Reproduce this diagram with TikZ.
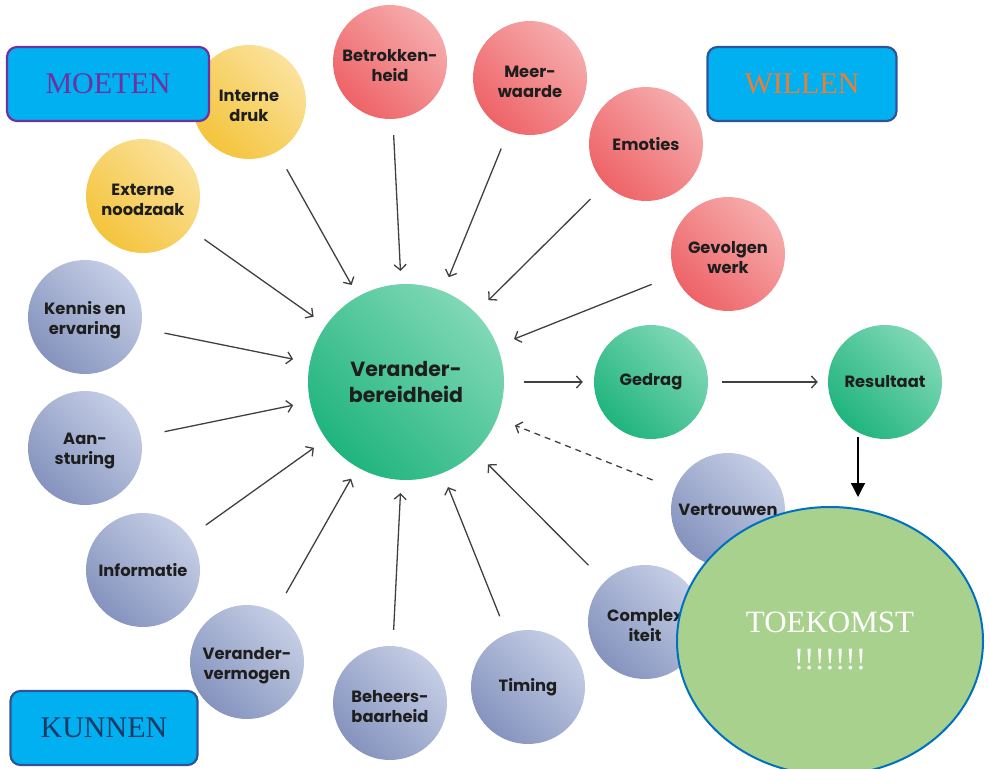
\documentclass[tikz,border=0pt]{standalone}
\usepackage{fontspec}
\setmainfont{Liberation Serif}
\newfontfamily\popfont{Poppins}
\usetikzlibrary{arrows.meta,calc,shapes.geometric}
\definecolor{yelD}{HTML}{F4C43C}
\definecolor{yelL}{HTML}{FBE29C}
\definecolor{redD}{HTML}{EE6367}
\definecolor{redL}{HTML}{F6ACAD}
\definecolor{bluD}{HTML}{8593BE}
\definecolor{bluL}{HTML}{C5CEE5}
\definecolor{grnD}{HTML}{20B47E}
\definecolor{grnL}{HTML}{80D8B7}
\definecolor{txt}{HTML}{1E1E1E}
\definecolor{lineg}{HTML}{404040}
\definecolor{boxfill}{HTML}{00B0F0}
\definecolor{purp}{HTML}{7030A0}
\definecolor{dblue}{HTML}{2F5597}
\definecolor{orng}{HTML}{ED7D31}
\definecolor{navy}{HTML}{1F3864}
\definecolor{tkfill}{HTML}{A9D18E}
\definecolor{tkline}{HTML}{0070C0}
\tikzset{
  bubtext/.style={align=center, text=txt, inner sep=0pt,
    font=\popfont\bfseries\fontsize{16.3}{20}\selectfont},
  bub/.style={circle, minimum size=#1, inner sep=0pt, bubtext},
  bub/.default=114pt,
  two/.style={label={[bubtext, yshift=-3.5pt]center:#1}},
  yel/.style={bub, top color=yelL, bottom color=yelD, shading angle=-45},
  redb/.style={bub, top color=redL, bottom color=redD, shading angle=-45},
  blu/.style={bub, top color=bluL, bottom color=bluD, shading angle=-45},
  grn/.style={bub=#1, top color=grnL, bottom color=grnD, shading angle=-45},
  grn/.default=114pt,
  arr/.style={draw=lineg, line width=1.3pt, -{Straight Barb[length=5.5pt,width=12pt]}},
  lbox/.style={rounded corners=10pt, line width=2.2pt, fill=boxfill,
    minimum width=#1, minimum height=74pt, inner sep=0pt,
    font=\fontsize{30}{34}\selectfont},
}
\begin{document}
\begin{tikzpicture}[x=1pt,y=-1pt]
\useasboundingbox (0,0) rectangle (990,768);
% yellow
\node[yel, two={Interne\\druk}] (intern) at (249,102) {};
\node[yel, two={Externe\\noodzaak}] (extern) at (143,196) {};
% red
\node[redb, two={Betrokken-\\heid}] (betrok) at (390,62) {};
\node[redb, two={Meer-\\waarde}] (meer) at (530,78) {};
\node[redb] (emot) at (646,144) {Emoties};
\node[redb, two={Gevolgen\\werk}] (gevolg) at (728,254) {};
% blue
\node[blu, two={Kennis en\\ervaring}] (kennis) at (85,317) {};
\node[blu, two={Aan-\\sturing}] (aanst) at (85,448) {};
\node[blu] (info) at (143,570) {Informatie};
\node[blu, two={Verander-\\vermogen}] (vverm) at (247,662) {};
\node[blu, two={Beheers-\\baarheid}] (beheer) at (390,703) {};
\node[blu] (timing) at (528,687) {Timing};
\node[blu, two={Complex\\iteit}] (complex) at (645,622) {};
\node[blu] (vertr) at (728,510) {Vertrouwen};
% green
\node[grn=196pt, font=\popfont\bfseries\fontsize{20.5}{25.5}\selectfont] (center) at (406,382) {Verander-\\bereidheid};
\node[grn] (gedrag) at (651,382) {Gedrag};
\node[grn] (result) at (885,382) {Resultaat};
% arrows in
\draw[arr, shorten <=20pt, shorten >=13pt] (intern) -- (center);
\draw[arr, shorten <=18pt, shorten >=15pt] (extern) -- (center);
\draw[arr, shorten <=16pt, shorten >=13pt] (betrok) -- (center);
\draw[arr, shorten <=19pt, shorten >=15pt] (meer) -- (center);
\draw[arr, shorten <=21pt, shorten >=18pt] (emot) -- (center);
\draw[arr, shorten <=25pt, shorten >=18pt] (gevolg) -- (center);
\draw[arr, shorten <=24pt, shorten >=17pt] (kennis) -- (center);
\draw[arr, shorten <=24pt, shorten >=17pt] (aanst) -- (center);
\draw[arr, shorten <=20pt, shorten >=15pt] (info) -- (center);
\draw[arr, shorten <=22pt, shorten >=13pt] (vverm) -- (center);
\draw[arr, shorten <=16pt, shorten >=13pt] (beheer) -- (center);
\draw[arr, shorten <=19pt, shorten >=15pt] (timing) -- (center);
\draw[arr, shorten <=23pt, shorten >=18pt] (complex) -- (center);
\draw[arr, dashed, dash pattern=on 6pt off 5pt, shorten <=24pt, shorten >=19pt] (vertr) -- (center);
% arrows out
\draw[arr, shorten <=20pt, shorten >=11pt] (center) -- (gedrag);
\draw[arr, shorten <=14pt, shorten >=10pt] (gedrag) -- (result);
% Toekomst
\node[ellipse, draw=tkline, fill=tkfill, line width=2pt, minimum width=306pt, minimum height=268pt,
  inner sep=0pt, align=center, text=white, font=\fontsize{31}{37}\selectfont] (toek) at (830,641) {TOEKOMST\\!!!!!!!};
\coordinate (rdown) at (858,437);
\coordinate (tktop) at (858,497);
\draw[line width=1.3pt, -{Triangle[length=14pt,width=14pt]}] (rdown) -- (tktop);
% label boxes
\node[lbox=202pt, draw=purp, text=purp] (moeten) at (108,84) {MOETEN};
\node[lbox=189pt, draw=dblue, text=orng] (willen) at (802,84) {WILLEN};
\node[lbox=187pt, draw=dblue, text=navy] (kunnen) at (104,728) {KUNNEN};
\end{tikzpicture}
\end{document}
